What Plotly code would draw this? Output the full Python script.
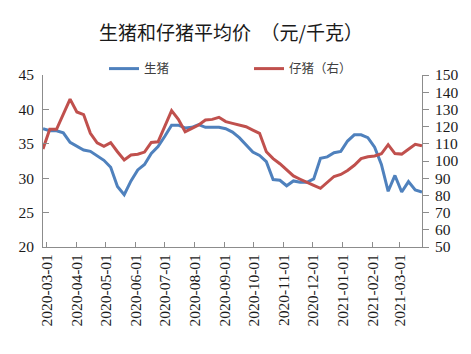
import pandas as pd
import plotly.graph_objects as go

# weekly observations
start_date = "2020-02-26"
n_points = 57
dates = pd.date_range(start_date, periods=n_points, freq="7D")

live_hog = [37.2, 36.9, 36.9, 36.6, 35.2, 34.6, 34.1, 33.9, 33.3, 32.6,
            31.6, 28.8, 27.6, 29.6, 31.2, 32.0, 33.6, 34.6, 36.1, 37.7,
            37.7, 37.3, 37.4, 37.8, 37.4, 37.4, 37.4, 37.2, 36.7, 35.9,
            34.8, 33.8, 33.3, 32.4, 29.8, 29.7, 28.9, 29.6, 29.4, 29.4,
            29.9, 32.9, 33.1, 33.7, 33.9, 35.4, 36.3, 36.3, 35.9, 34.5,
            32.0, 28.1, 30.4, 28.0, 29.5, 28.3, 28.0]

piglet = [107.0, 118.4, 118.4, 127.5, 136.0, 128.5, 127.0, 116.1, 110.5, 108.5,
          110.7, 105.4, 100.6, 103.5, 103.9, 105.2, 110.8, 111.2, 120.3, 129.3,
          124.2, 117.0, 119.0, 120.9, 123.8, 124.2, 125.4, 122.9, 121.9, 120.9,
          119.9, 118.0, 116.1, 105.4, 101.4, 98.4, 94.8, 91.3, 89.4, 87.8,
          85.8, 84.1, 87.5, 91.0, 92.2, 94.5, 97.5, 101.4, 102.5, 102.9,
          104.2, 109.5, 104.3, 104.0, 106.8, 109.7, 108.8]

tick_dates = ["2020-03-01", "2020-04-01", "2020-05-01", "2020-06-01", "2020-07-01",
              "2020-08-01", "2020-09-01", "2020-10-01", "2020-11-01", "2020-12-01",
              "2021-01-01", "2021-02-01", "2021-03-01"]

series_names = ["生猪", "仔猪（右）"]
title_text = "生猪和仔猪平均价\u3000（元/千克）"

BLUE = "#4F81BD"
RED = "#C0504D"
AXIS = "#8C8C8C"
FONT = "Liberation Serif, Noto Sans CJK SC, serif"

fig = go.Figure()
fig.add_trace(go.Scatter(x=dates, y=live_hog, name=series_names[0], mode="lines",
                         line=dict(color=BLUE, width=3), yaxis="y"))
fig.add_trace(go.Scatter(x=dates, y=piglet, name=series_names[1], mode="lines",
                         line=dict(color=RED, width=3), yaxis="y2"))

fig.update_layout(
    width=471, height=354,
    margin=dict(l=43, r=49, t=75, b=107),
    paper_bgcolor="white", plot_bgcolor="white",
    font=dict(family=FONT, color="#1a1a1a", size=15),
    title=dict(text=title_text, x=231 / 471, xanchor="center",
               y=1 - 33 / 354, yanchor="middle", xref="container", yref="container",
               font=dict(family="Noto Sans CJK SC, sans-serif", size=19, color="#1a1a1a")),
    showlegend=True,
    legend=dict(orientation="h", x=0.161, xanchor="left", y=1.035, yanchor="middle",
                entrywidth=100, entrywidthmode="pixels",
                font=dict(family="Noto Sans CJK SC, sans-serif", size=12.5, color="#404040"),
                bgcolor="rgba(0,0,0,0)", itemwidth=30),
    xaxis=dict(type="date", range=[dates[0], dates[-1]],
               tickvals=tick_dates, ticktext=tick_dates, tickangle=-90,
               showgrid=False, zeroline=False,
               showline=True, linecolor=AXIS, linewidth=1,
               ticks="inside", ticklen=5, tickcolor=AXIS,
               tickfont=dict(family=FONT, size=15.5, color="#1a1a1a")),
    yaxis=dict(range=[20, 45], dtick=5, tick0=20, showgrid=False, zeroline=False,
               showline=True, linecolor=AXIS, linewidth=1,
               ticks="inside", ticklen=6, tickcolor=AXIS, ticklabelstandoff=5,
               tickfont=dict(family=FONT, size=15.5, color="#1a1a1a")),
    yaxis2=dict(range=[50, 150], dtick=10, tick0=50, overlaying="y", side="right",
                showgrid=False, zeroline=False,
                showline=True, linecolor=AXIS, linewidth=1,
                ticks="outside", ticklen=6, tickcolor=AXIS, ticklabelstandoff=3,
                tickfont=dict(family=FONT, size=15.5, color="#1a1a1a")),
)

fig.write_html("out.html")
